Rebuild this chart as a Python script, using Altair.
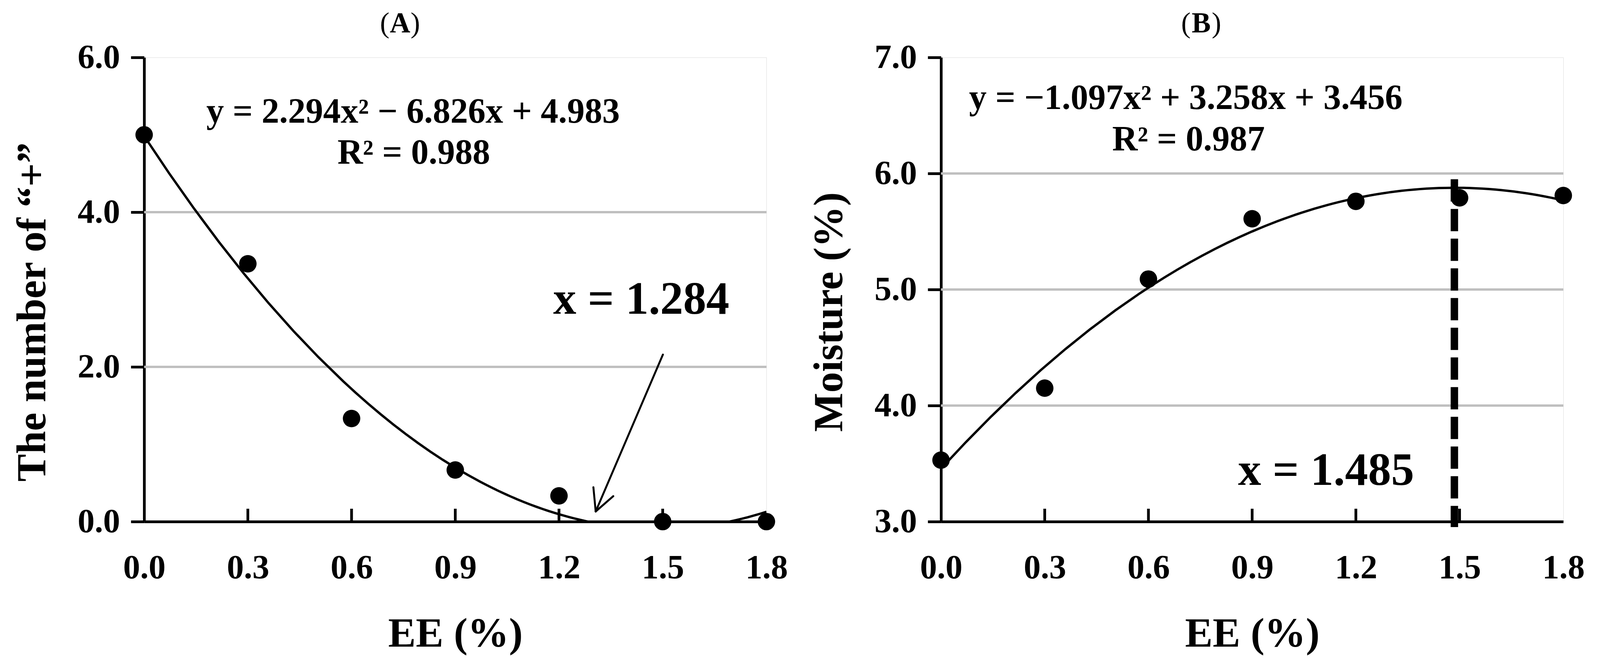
import altair as alt
import pandas as pd

# ---- data ----
ee = [0.0, 0.3, 0.6, 0.9, 1.2, 1.5, 1.8]
plus_count = [5.0, 3.333, 1.333, 0.667, 0.333, 0.0, 0.0]
moisture = [3.53, 4.15, 5.09, 5.61, 5.76, 5.79, 5.81]

x_tick_values = [0.0, 0.3, 0.6, 0.9, 1.2, 1.5, 1.8]
inner_x_ticks = [0.3, 0.6, 0.9, 1.2, 1.5]
a_y_ticks = [0.0, 2.0, 4.0, 6.0]
b_y_ticks = [3.0, 4.0, 5.0, 6.0, 7.0]
a_grid = [2.0, 4.0]
b_grid = [4.0, 5.0, 6.0]

# panel titles
panel_letters = ["A", "B"]

# annotations panel A
a_eq_text = ["y = 2.294x² − 6.826x + 4.983", "R² = 0.988"]
a_eq_x = [0.778, 0.780]
a_eq_y = [5.157, 4.626]
a_root_text = ["x = 1.284"]
a_root_x = [1.438]
a_root_y = [2.685]
arrow_x = [1.5006, 1.3062, 1.3062]
arrow_y = [2.159, 0.131, 0.131]
arrow_x2 = [1.3062, 1.2995, 1.357]
arrow_y2 = [0.131, 0.445, 0.329]

# annotations panel B
b_eq_text = ["y = −1.097x² + 3.258x + 3.456", "R² = 0.987"]
b_eq_x = [0.708, 0.716]
b_eq_y = [6.556, 6.20]
b_peak_text = ["x = 1.485"]
b_peak_x = [1.114]
b_peak_y = [3.316]
b_vline_x = [1.485]
b_vline_top = [5.95]
b_vline_bottom = [2.953]

W, H = 1593, 1188
FONT = "Liberation Serif"

df_a = pd.DataFrame({"ee": ee, "val": plus_count})
df_b = pd.DataFrame({"ee": ee, "val": moisture})


def x_axis():
    return alt.Axis(values=x_tick_values, format=".1f", title="EE (%)", grid=False,
                    ticks=False, tickSize=0, labelPadding=144, labelBaseline="alphabetic",
                    labelFlush=False, labelFont=FONT, labelFontSize=87, labelFontWeight="bold",
                    labelColor="black", titleFont=FONT, titleFontSize=106, titleFontWeight="bold",
                    titleColor="black", titleBaseline="alphabetic", titleY=319,
                    domainColor="black", domainWidth=7)


def y_axis(vals, title):
    return alt.Axis(values=vals, format=".1f", title=title, grid=False,
                    tickSize=34, tickWidth=7, tickColor="black", labelPadding=28,
                    labelFont=FONT, labelFontSize=87, labelFontWeight="bold", labelColor="black",
                    labelFlush=False,
                    titleFont=FONT, titleFontSize=106, titleFontWeight="bold", titleColor="black",
                    titleBaseline="alphabetic", titleX=-254, titleY=651,
                    domainColor="black", domainWidth=7)


def title_marks(letter, cx):
    d = pd.DataFrame({"t": [letter]})
    mid = alt.Chart(d).mark_text(font=FONT, fontSize=73, fontWeight="bold", align="center",
                                 baseline="alphabetic", color="black").encode(
        x=alt.value(cx), y=alt.value(-64), text="t:N")
    lp = alt.Chart(d).mark_text(font=FONT, fontSize=73, fontWeight="normal", align="right",
                                baseline="alphabetic", color="black", text="(").encode(
        x=alt.value(cx - 27), y=alt.value(-64))
    rp = alt.Chart(d).mark_text(font=FONT, fontSize=73, fontWeight="normal", align="left",
                                baseline="alphabetic", color="black", text=")").encode(
        x=alt.value(cx + 27), y=alt.value(-64))
    return [lp, mid, rp]


def panel(df, ydom, yvals, ytitle, grid_vals):
    xs = alt.Scale(domain=[0, 1.8], nice=False, zero=False)
    ys = alt.Scale(domain=ydom, nice=False, zero=False)
    X = alt.X("ee:Q", scale=xs, axis=x_axis())
    Y = alt.Y("val:Q", scale=ys, axis=y_axis(yvals, ytitle))

    grid = alt.Chart(pd.DataFrame({"g": grid_vals})).mark_rule(
        color="#bfbfbf", strokeWidth=6).encode(y=alt.Y("g:Q", scale=ys))
    ticks = alt.Chart(pd.DataFrame({"t": inner_x_ticks})).mark_rule(
        color="black", strokeWidth=7).encode(
        x=alt.X("t:Q", scale=xs), y=alt.value(H - 33), y2=alt.value(H))
    curve = alt.Chart(df).transform_regression(
        "ee", "val", method="poly", order=2, extent=[0, 1.8]
    ).mark_line(color="black", strokeWidth=6, clip=True).encode(x=X, y=Y)
    pts = alt.Chart(df).mark_circle(color="black", opacity=1, size=2000).encode(x=X, y=Y)
    return [grid, ticks, curve, pts], xs, ys


def text_layer(texts, xv, yv, xs, ys, size):
    return alt.Chart(pd.DataFrame({"t": texts, "x": xv, "y": yv})).mark_text(
        font=FONT, fontSize=size, fontWeight="bold", align="center", baseline="alphabetic",
        color="black").encode(x=alt.X("x:Q", scale=xs), y=alt.Y("y:Q", scale=ys), text="t:N")


layers_a, xs_a, ys_a = panel(df_a, [0, 6], a_y_ticks, "The number of “+”", a_grid)
eq_a = text_layer(a_eq_text, a_eq_x, a_eq_y, xs_a, ys_a, 90)
root_a = text_layer(a_root_text, a_root_x, a_root_y, xs_a, ys_a, 118)
arrow = alt.Chart(pd.DataFrame({"x": arrow_x, "y": arrow_y, "x2": arrow_x2, "y2": arrow_y2})).mark_rule(
    color="black", strokeWidth=5, strokeCap="round").encode(
    x=alt.X("x:Q", scale=xs_a), y=alt.Y("y:Q", scale=ys_a), x2="x2:Q", y2="y2:Q")

chart_a = alt.layer(*layers_a, eq_a, root_a, arrow, *title_marks(panel_letters[0], 655)).properties(
    width=W, height=H)

layers_b, xs_b, ys_b = panel(df_b, [3, 7], b_y_ticks, "Moisture (%)", b_grid)
eq_b = text_layer(b_eq_text, b_eq_x, b_eq_y, xs_b, ys_b, 90)
peak_b = text_layer(b_peak_text, b_peak_x, b_peak_y, xs_b, ys_b, 118)
vline = alt.Chart(pd.DataFrame({"x": b_vline_x, "y": b_vline_top, "y2": b_vline_bottom})).mark_rule(
    color="black", strokeWidth=19, strokeDash=[57, 19]).encode(
    x=alt.X("x:Q", scale=xs_b), y=alt.Y("y:Q", scale=ys_b), y2="y2:Q")

chart_b = alt.layer(layers_b[0], layers_b[1], vline, layers_b[2], layers_b[3], eq_b, peak_b,
                    *title_marks(panel_letters[1], 666)).properties(width=W, height=H)

chart = alt.hconcat(chart_a, chart_b, spacing=52).resolve_scale(x="independent", y="independent").properties(
    padding={"left": 21, "top": 16, "right": 10, "bottom": 10}
).configure_view(stroke="black", strokeWidth=7).configure(background="white")

chart.save("out.html", embed_options={"renderer": "svg", "actions": False})
